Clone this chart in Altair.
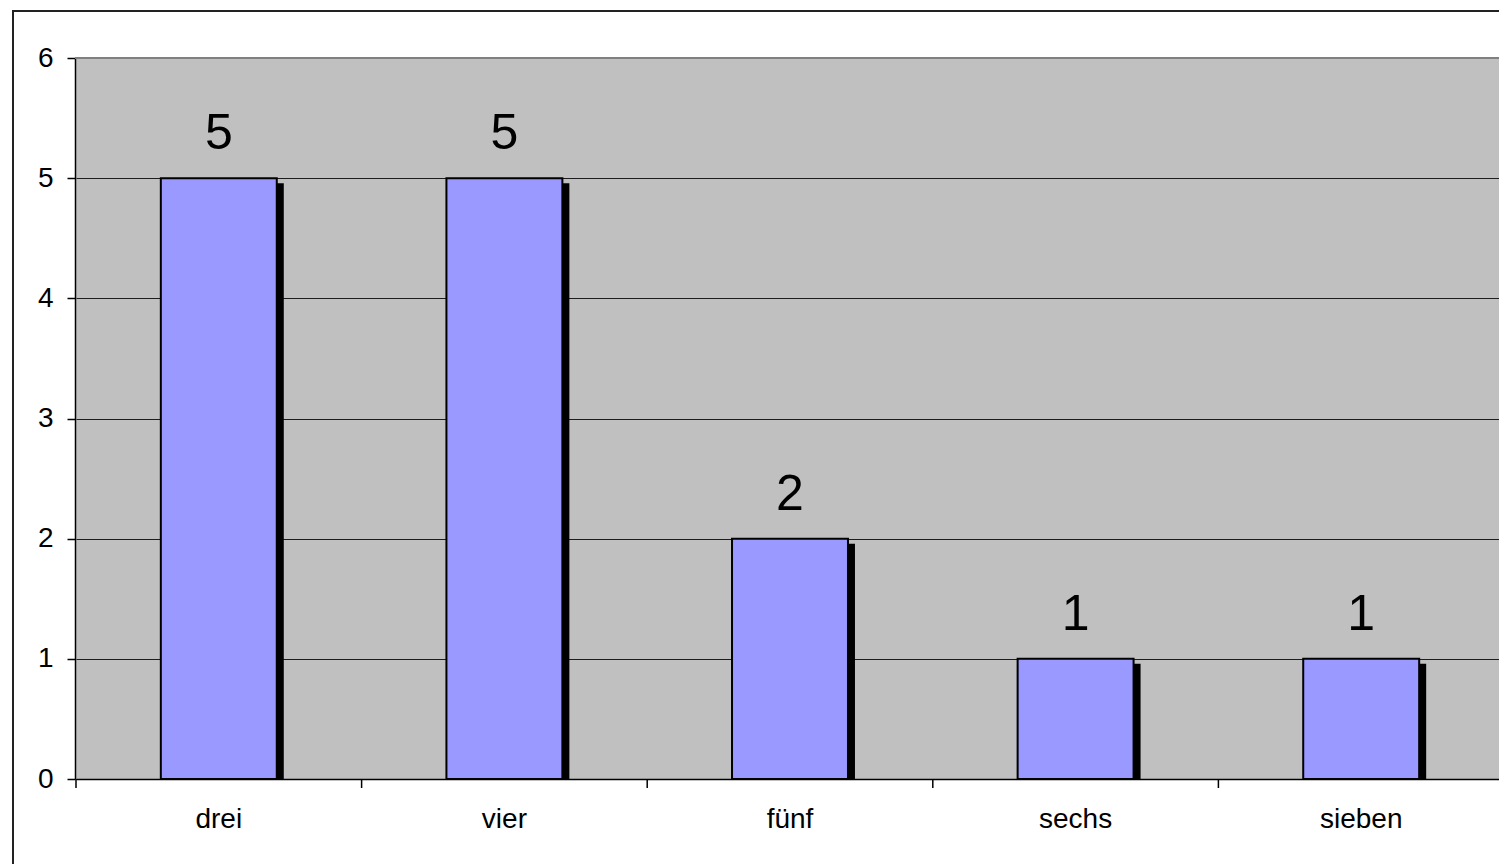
import altair as alt
import pandas as pd

# Counts per category
categories = ["drei", "vier", "fünf", "sechs", "sieben"]
counts = [5, 5, 2, 1, 1]
y_ticks = [0, 1, 2, 3, 4, 5, 6]

df = pd.DataFrame({"kategorie": categories, "anzahl": counts})

FONT = "Liberation Sans"
PLOT_W, PLOT_H = 1424, 721
BAND_RANGE = [1, 1429]

x_enc = alt.X(
    "kategorie:N",
    sort=categories,
    scale=alt.Scale(range=BAND_RANGE, paddingInner=0, paddingOuter=0),
    axis=alt.Axis(
        title=None,
        labelAngle=0,
        ticks=False,
        domainColor="black",
        domainWidth=1.5,
        labelFont=FONT,
        labelFontSize=28,
        labelColor="black",
        labelBaseline="alphabetic",
        labelPadding=48,
        grid=False,
    ),
)
y_enc = alt.Y(
    "anzahl:Q",
    scale=alt.Scale(domain=[0, 6], nice=False),
    axis=alt.Axis(
        title=None,
        values=y_ticks,
        format="d",
        grid=True,
        gridColor="black",
        gridWidth=1,
        gridOpacity=0.85,
        tickColor="black",
        tickSize=8,
        tickWidth=1.5,
        domainColor="black",
        domainWidth=1.5,
        labelFont=FONT,
        labelFontSize=28,
        labelColor="black",
        labelPadding=14,
    ),
)

base = alt.Chart(df)

# Drop shadow behind each bar
shadow = base.mark_bar(
    color="black", xOffset=7, yOffset=5, clip=True,
    width=alt.RelativeBandSize(0.406),
).encode(x=x_enc, y=y_enc)

bars = base.mark_bar(
    color="#9999FF", stroke="black", strokeWidth=2,
    width=alt.RelativeBandSize(0.406),
).encode(x=x_enc, y=y_enc)

labels = base.mark_text(
    font=FONT, fontSize=50, color="black", baseline="alphabetic", dy=-29,
).encode(x=x_enc, y=y_enc, text="anzahl:Q")

# Category boundary ticks below the x axis
boundary_ticks = base.mark_rule(color="black", strokeWidth=1.5).encode(
    x=alt.X("kategorie:N", sort=categories, bandPosition=0),
    y=alt.value(PLOT_H),
    y2=alt.value(PLOT_H + 9),
)

one_row = pd.DataFrame({"f": [0]})

# Grey upper edge of the plot area
top_edge = alt.Chart(one_row).mark_rule(color="#808080", strokeWidth=2).encode(
    x=alt.value(0), x2=alt.value(PLOT_W + 10), y=alt.value(0),
)

# Outer frame around the whole figure
frame = alt.Chart(one_row).mark_rect(
    fill=None, stroke="#222222", strokeWidth=2,
).encode(
    x=alt.value(-62), x2=alt.value(1500),
    y=alt.value(-47), y2=alt.value(900),
)

chart = alt.layer(shadow, bars, labels, boundary_ticks, top_edge, frame).properties(
    width=PLOT_W,
    height=PLOT_H,
    autosize=alt.AutoSizeParams(type="none"),
    padding={"left": 75, "top": 58, "right": 0, "bottom": 85},
    background="white",
).configure_view(
    fill="#C0C0C0", strokeWidth=0,
)

chart.save("out.html", embed_options={"renderer": "svg", "actions": False})
